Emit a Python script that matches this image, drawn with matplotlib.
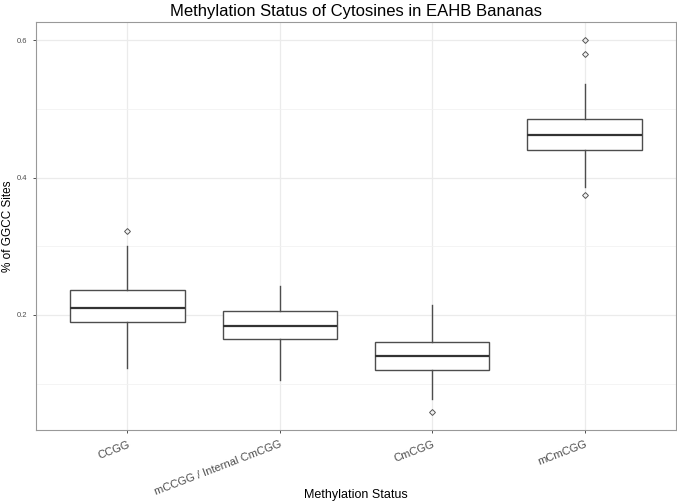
import numpy as np
import matplotlib
matplotlib.use('Agg')
import matplotlib.pyplot as plt

plt.rcParams['font.family'] = ['Liberation Sans', 'DejaVu Sans']

# data
categories = ['CCGG', 'mCCGG / Internal CmCGG', 'CmCGG', 'mCmCGG']
q1 = [0.1898, 0.1655, 0.1199, 0.4408]
med = [0.2106, 0.1840, 0.1398, 0.4618]
q3 = [0.2364, 0.2054, 0.1602, 0.4851]
whislo = [0.1232, 0.1053, 0.0772, 0.3869]
whishi = [0.3005, 0.2427, 0.2146, 0.5360]
fliers = [[0.3224], [], [0.0583], [0.3744, 0.5797, 0.6010]]

stats = []
for i in range(len(categories)):
    stats.append(dict(label=categories[i], q1=q1[i], med=med[i], q3=q3[i],
                      whislo=whislo[i], whishi=whishi[i], fliers=fliers[i]))

fig = plt.figure(figsize=(6.77, 5.03), dpi=100)
ax = fig.add_axes([0.0532, 0.1451, 0.9453, 0.8118])

pos = np.arange(1, len(categories) + 1)
ax.bxp(stats, positions=pos, widths=0.75, patch_artist=True,
       boxprops=dict(facecolor='white', edgecolor='#4d4d4d', linewidth=1.0),
       medianprops=dict(color='#333333', linewidth=1.6),
       whiskerprops=dict(color='#4d4d4d', linewidth=1.0),
       capprops=dict(linewidth=0),
       flierprops=dict(marker='D', markersize=3, markerfacecolor='none',
                       markeredgecolor='#555555', markeredgewidth=0.7),
       zorder=3)

ax.set_xlim(0.4, 4.6)
ax.set_ylim(0.0325, 0.627)
ax.set_yticks([0.2, 0.4, 0.6])
ax.set_yticklabels(['0.2', '0.4', '0.6'])
ax.set_yticks([0.1, 0.3, 0.5], minor=True)
ax.set_xticks(pos)
ax.set_xticklabels(categories, rotation=21, ha='right', rotation_mode='anchor',
                   fontsize=8, color='#4d4d4d')

ax.grid(which='major', color='#ebebeb', linewidth=0.9, zorder=0)
ax.grid(which='minor', axis='y', color='#f2f2f2', linewidth=0.6, zorder=0)
ax.set_axisbelow(True)
ax.tick_params(axis='y', which='major', labelsize=5.5, labelcolor='#4d4d4d',
               color='#333333', length=2.5, width=0.6)
ax.tick_params(axis='y', which='minor', length=0)
ax.tick_params(axis='x', color='#333333', length=2.5, width=0.6, pad=4)
for s in ax.spines.values():
    s.set_color('#999999')
    s.set_linewidth(0.8)

ax.set_title('Methylation Status of Cytosines in EAHB Bananas', fontsize=12, pad=4)
ax.set_xlabel('Methylation Status', fontsize=9)
ax.xaxis.set_label_coords(0.5, -0.145)
ax.set_ylabel('% of GGCC Sites', fontsize=8.5, labelpad=2)

fig.savefig('out.png', dpi=100)
